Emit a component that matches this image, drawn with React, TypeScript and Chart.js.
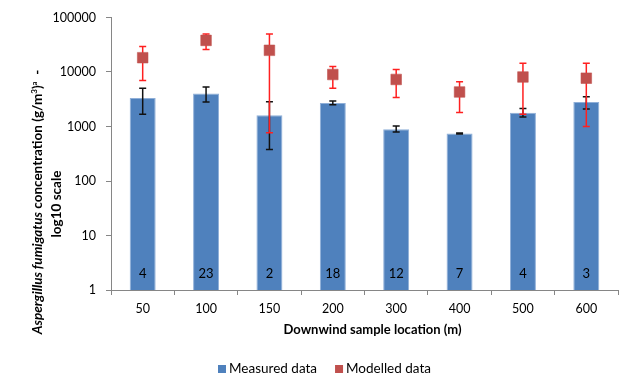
import React, { useEffect, useRef } from "react";
import { Chart, registerables } from "chart.js";
Chart.register(...registerables);

const categories = ["50", "100", "150", "200", "300", "400", "500", "600"];
const measured = [3330, 4050, 1610, 2700, 890, 745, 1780, 2810];
const measuredLow = [1670, 2810, 380, 2500, 790, 730, 1500, 2100];
const measuredHigh = [5040, 5300, 2850, 2930, 1020, 760, 2150, 3530];
const modelled = [18300, 38000, 25000, 9000, 7300, 4300, 8100, 7700];
const modelledLow = [6980, 26000, 765, 5040, 3400, 1800, 1670, 1000];
const modelledHigh = [29500, 50000, 50000, 12600, 11100, 6600, 14400, 14400];
const sampleCounts = ["4", "23", "2", "18", "12", "7", "4", "3"];
const yTicks = [1, 10, 100, 1000, 10000, 100000];

const FONT = "Lato, 'Open Sans', sans-serif";
const BLUE = "#4F81BD";
const RED = "#C0504D";
const AXIS = "#868686";

const overlayPlugin = {
  id: "overlay",
  beforeDatasetDraw(chart: any, args: any) {
    if (args.index !== 1) return;
    const ctx = chart.ctx;
    const y = chart.scales.y;
    const meta0 = chart.getDatasetMeta(0);
    const meta1 = chart.getDatasetMeta(1);
    const bar = (x: number, lo: number, hi: number, color: string) => {
      const y1 = y.getPixelForValue(lo);
      const y2 = y.getPixelForValue(hi);
      ctx.save();
      ctx.strokeStyle = color;
      ctx.lineWidth = 1.5;
      ctx.beginPath();
      ctx.moveTo(x, y1);
      ctx.lineTo(x, y2);
      ctx.moveTo(x - 3.5, y1);
      ctx.lineTo(x + 3.5, y1);
      ctx.moveTo(x - 3.5, y2);
      ctx.lineTo(x + 3.5, y2);
      ctx.stroke();
      ctx.restore();
    };
    measured.forEach((_, i) => bar(meta0.data[i].x, measuredLow[i], measuredHigh[i], "#111111"));
    modelled.forEach((_, i) => bar(meta1.data[i].x, modelledLow[i], modelledHigh[i], "#FF2020"));
  },
  afterDraw(chart: any) {
    const ctx = chart.ctx;
    const y = chart.scales.y;
    const area = chart.chartArea;
    const meta0 = chart.getDatasetMeta(0);
    ctx.save();
    ctx.fillStyle = "#000";
    ctx.textAlign = "center";
    ctx.textBaseline = "middle";
    ctx.font = `13px ${FONT}`;
    sampleCounts.forEach((c, i) => {
      ctx.fillText(c, meta0.data[i].x, y.getPixelForValue(2));
    });
    // x title
    ctx.font = `bold 13px ${FONT}`;
    ctx.fillText("Downwind sample location (m)", (area.left + area.right) / 2 + 8, 330);
    // legend
    ctx.textAlign = "left";
    ctx.font = `13.5px ${FONT}`;
    let lx = 218;
    const ly = 369;
    const items = [
      { label: chart.data.datasets[0].label, color: BLUE },
      { label: chart.data.datasets[1].label, color: RED },
    ];
    items.forEach((it) => {
      ctx.fillStyle = it.color;
      ctx.fillRect(lx, ly - 4, 8, 8);
      ctx.fillStyle = "#000";
      ctx.fillText(it.label, lx + 11, ly);
      lx += 11 + ctx.measureText(it.label).width + 18;
    });
    // y title (rotated, rich text)
    const drawRich = (segs: any[], cx: number, cy: number) => {
      ctx.save();
      ctx.translate(cx, cy);
      ctx.rotate(-Math.PI / 2);
      ctx.textAlign = "left";
      ctx.textBaseline = "middle";
      ctx.fillStyle = "#000";
      let total = 0;
      segs.forEach((s) => {
        ctx.font = s.font;
        total += ctx.measureText(s.text).width;
      });
      let x = -total / 2;
      segs.forEach((s) => {
        ctx.font = s.font;
        ctx.fillText(s.text, x, s.dy || 0);
        x += ctx.measureText(s.text).width;
      });
      ctx.restore();
    };
    const b = `bold 13.5px ${FONT}`;
    const bi = `italic bold 13.5px ${FONT}`;
    const sup = `bold 8px ${FONT}`;
    drawRich(
      [
        { text: "Aspergillus fumigatus", font: bi },
        { text: " concentration (g/m", font: b },
        { text: "3", font: sup, dy: -4 },
        { text: ")", font: b },
        { text: "a", font: sup, dy: -4 },
        { text: "  -", font: b },
      ],
      38,
      202
    );
    drawRich([{ text: "log10 scale", font: b }], 57, 204);
    ctx.restore();
  },
};

export default function App() {
  const ref = useRef<HTMLCanvasElement>(null);
  useEffect(() => {
    if (!ref.current) return;
    const chart = new Chart(ref.current, {
      type: "bar",
      data: {
        labels: categories,
        datasets: [
          {
            type: "bar",
            label: "Measured data",
            data: measured,
            backgroundColor: BLUE,
            borderColor: "#8FAFD8",
            borderWidth: { left: 1, right: 1, top: 1, bottom: 0 },
            borderSkipped: false,
            barPercentage: 0.41,
            categoryPercentage: 1,
            order: 1,
          },
          {
            type: "line",
            label: "Modelled data",
            data: modelled,
            showLine: false,
            pointStyle: "rect",
            pointRadius: 7.5,
            pointBackgroundColor: RED,
            pointBorderColor: "rgba(192,80,77,0.55)",
            pointBorderWidth: 1,
            backgroundColor: RED,
            borderColor: RED,
            order: 0,
          },
        ],
      } as any,
      options: {
        responsive: false,
        animation: false,
        layout: { padding: { left: 0, right: 24, top: 16, bottom: 0 } },
        plugins: { legend: { display: false }, tooltip: { enabled: false } },
        scales: {
          x: {
            grid: {
              display: true,
              drawOnChartArea: false,
              drawTicks: true,
              tickLength: 5,
              color: AXIS,
              offset: true,
            },
            border: { color: AXIS, width: 1 },
            ticks: { color: "#000", font: { family: FONT, size: 12.5 }, padding: 6 },
            afterFit: (s: any) => {
              s.height = 88;
            },
          },
          y: {
            type: "logarithmic",
            min: 1,
            max: 100000,
            grid: {
              display: true,
              drawOnChartArea: false,
              drawTicks: true,
              tickLength: 5,
              color: AXIS,
            },
            border: { color: AXIS, width: 1 },
            ticks: {
              color: "#000",
              font: { family: FONT, size: 12.5 },
              padding: 10,
              callback: (v: any) => String(v),
            },
            afterBuildTicks: (s: any) => {
              s.ticks = yTicks.map((v) => ({ value: v }));
            },
            afterFit: (s: any) => {
              s.width = 111;
            },
          },
        },
      } as any,
      plugins: [overlayPlugin],
    });
    return () => chart.destroy();
  }, []);
  return (
    <div style={{ position: "fixed", left: 0, top: 0, width: 642, height: 378, background: "#fff" }}>
      <canvas ref={ref} width={642} height={378} style={{ width: 642, height: 378 }} />
    </div>
  );
}
